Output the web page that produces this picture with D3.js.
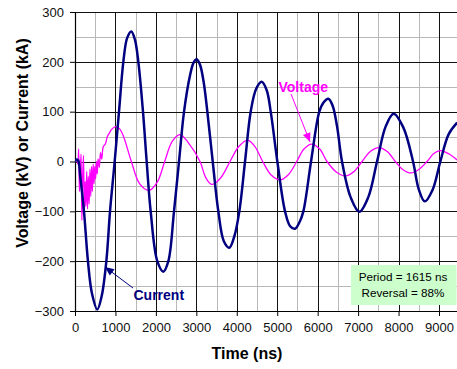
<!DOCTYPE html>
<html><head><meta charset="utf-8">
<script src="https://cdn.jsdelivr.net/npm/d3@7"></script>
<style>body{margin:0;background:#fff}svg{display:block}</style>
</head><body>
<svg id="chart" width="457" height="369"></svg>
<script>
// ---- data (time in ns, value in kA / kV) ----
const currentPoints = [[0,0],[40,4],[80,2],[130,-30],[222,-100],[320,-200],[420,-265],[551,-297],[660,-270],[775,-200],[866,-100],[981,0],[1088,100],[1195,200],[1290,248],[1392,261],[1480,245],[1566,200],[1681,100],[1772,0],[1871,-100],[2035,-200],[2184,-221],[2308,-200],[2448,-100],[2572,0],[2696,100],[2850,175],[2930,198],[3009,205],[3091,194],[3180,160],[3272,100],[3405,0],[3544,-100],[3680,-160],[3816,-173],[3940,-150],[4063,-100],[4204,0],[4344,100],[4480,146],[4616,160],[4740,143],[4839,100],[5003,0],[5193,-100],[5320,-130],[5440,-135],[5550,-122],[5646,-100],[5836,0],[6041,100],[6150,119],[6264,126],[6370,112],[6480,70],[6602,0],[6816,-72],[7031,-101],[7250,-72],[7468,0],[7680,70],[7880,96],[8120,68],[8358,0],[8500,-56],[8647,-80],[8840,-57],[9033,0],[9240,55],[9450,78]];
const voltagePoints = [[0,0],[40,2],[70,-5],[90,25],[110,-60],[130,-20],[150,15],[170,-118],[190,-30],[210,12],[230,-105],[250,-40],[270,-90],[290,-20],[310,-95],[330,-30],[350,-85],[370,-15],[390,-70],[410,-10],[430,-60],[450,-5],[470,-45],[490,-10],[510,-35],[530,0],[550,-25],[570,5],[600,-12],[630,18],[660,5],[700,30],[750,35],[800,50],[850,57],[900,64],[1000,70],[1100,66],[1200,50],[1393,0],[1600,-45],[1830,-58],[2030,-42],[2218,0],[2400,40],[2596,54],[2800,38],[3091,0],[3230,-32],[3380,-46],[3600,-33],[3833,0],[4050,30],[4270,43],[4450,30],[4641,0],[4850,-27],[5070,-37],[5280,-26],[5482,0],[5660,25],[5852,35],[6050,25],[6231,0],[6460,-21],[6685,-29],[6900,-20],[7097,0],[7300,20],[7510,28],[7720,20],[7920,0],[8100,-16],[8309,-23],[8500,-16],[8704,0],[8870,16],[9033,22],[9250,15],[9450,3]];
const xTickValues = [0,1000,2000,3000,4000,5000,6000,7000,8000,9000];
const xMinorValues = [500,1500,2500,3500,4500,5500,6500,7500,8500];
const yTickValues = [-300,-200,-100,0,100,200,300];
const yMinorValues = [-250,-150,-50,50,150,250];
const xTitle = "Time (ns)";
const yTitle = "Voltage (kV) or Current (kA)";
const infoLines = ["Period = 1615 ns","Reversal = 88%"];

// ---- layout ----
const L = 75, R = 457.2, T = 12, B = 311;
const svg = d3.select("#chart");
const x = d3.scaleLinear().domain([0, 9450]).range([L, R]);
const y = d3.scaleLinear().domain([-300, 300]).range([B, T]);
const font = "'Liberation Sans', Arial, sans-serif";
const px = v => Math.round(v) + 0.5;

svg.append("defs").append("clipPath").attr("id","clip")
  .append("rect").attr("x",L).attr("y",T-2).attr("width",R-L).attr("height",B-T+4);

// grid
const g = svg.append("g");
g.selectAll(".vmin").data(xMinorValues).join("line")
  .attr("x1",d=>px(x(d))).attr("x2",d=>px(x(d))).attr("y1",T).attr("y2",B)
  .attr("stroke","#b8b8b8").attr("stroke-width",1);
g.selectAll(".hmin").data(yMinorValues).join("line")
  .attr("x1",L).attr("x2",R).attr("y1",d=>px(y(d))).attr("y2",d=>px(y(d)))
  .attr("stroke","#b8b8b8").attr("stroke-width",1);
g.selectAll(".vmaj").data(xTickValues.filter(d=>d>0)).join("line")
  .attr("x1",d=>px(x(d))).attr("x2",d=>px(x(d))).attr("y1",T).attr("y2",B)
  .attr("stroke","#111").attr("stroke-width",1);
g.selectAll(".hmaj").data(yTickValues.filter(d=>d>-300)).join("line")
  .attr("x1",L).attr("x2",R).attr("y1",d=>px(y(d))).attr("y2",d=>px(y(d)))
  .attr("stroke","#111").attr("stroke-width",1);

// axes
const xAxis = d3.axisBottom(x).tickValues(xTickValues).tickSize(5).tickPadding(7).tickFormat(d3.format("d"));
const yAxis = d3.axisLeft(y).tickValues(yTickValues).tickSize(5).tickPadding(6).tickFormat(d3.format("d"));
const gx = svg.append("g").attr("transform",`translate(0,${Math.round(B)})`).call(xAxis);
const gy = svg.append("g").attr("transform",`translate(${Math.round(L)},0)`).call(yAxis);
[gx,gy].forEach(a=>{
  a.selectAll("path").attr("stroke","#000").attr("stroke-width",1.2);
  a.selectAll("line").attr("stroke","#000");
  a.selectAll("text").attr("font-family",font).attr("font-size","13px").attr("fill","#111");
});
gx.select("path").attr("d",`M${L},0.5H${R}`);
gy.select("path").attr("d",`M0.5,${T}V${B}`);

// lines
const line = d3.line().x(d=>x(d[0])).y(d=>y(d[1])).curve(d3.curveCatmullRom.alpha(0.5));
const plot = svg.append("g").attr("clip-path","url(#clip)");
plot.append("path").datum(voltagePoints).attr("d",line)
  .attr("fill","none").attr("stroke","#ff00ff").attr("stroke-width",1.3).attr("stroke-linejoin","round");
plot.append("path").datum(currentPoints).attr("d",line)
  .attr("fill","none").attr("stroke","#000080").attr("stroke-width",2.5).attr("stroke-linejoin","round");

// axis titles
svg.append("text").attr("x",247).attr("y",359).attr("text-anchor","middle")
  .attr("font-family",font).attr("font-weight","bold").attr("font-size","16px").attr("fill","#000").text(xTitle);
svg.append("text").attr("transform","translate(27.5,143) rotate(-90)").attr("text-anchor","middle")
  .attr("font-family",font).attr("font-weight","bold").attr("font-size","16px").attr("fill","#000").text(yTitle);

// annotations with arrows
function arrow(x1,y1,x2,y2,color){
  svg.append("line").attr("x1",x1).attr("y1",y1).attr("x2",x2).attr("y2",y2)
    .attr("stroke",color).attr("stroke-width",1);
  const a = Math.atan2(y2-y1,x2-x1), len=9, w=4;
  const bx = x2-len*Math.cos(a), by = y2-len*Math.sin(a);
  const p = [[x2,y2],[bx+w*Math.sin(a),by-w*Math.cos(a)],[bx-w*Math.sin(a),by+w*Math.cos(a)]];
  svg.append("path").attr("d","M"+p.map(q=>q.join(",")).join("L")+"Z").attr("fill",color);
}
svg.append("text").attr("x",278.5).attr("y",91.5).attr("font-family",font).attr("font-weight","bold")
  .attr("font-size","14px").attr("fill","#ff00ff").text("Voltage");
arrow(291,94,310,142,"#ff00ff");
svg.append("text").attr("x",133.5).attr("y",299.5).attr("font-family",font).attr("font-weight","bold")
  .attr("font-size","14px").attr("fill","#000080").text("Current");
arrow(133,288,105,267,"#000080");

// info box
svg.append("rect").attr("x",351).attr("y",265).attr("width",105.5).attr("height",40).attr("fill","#ccffcc");
svg.selectAll(".info").data(infoLines).join("text")
  .attr("x",403).attr("y",(d,i)=>281+i*15.6).attr("text-anchor","middle")
  .attr("font-family",font).attr("font-size","11.7px").attr("fill","#000").text(d=>d);
</script>
</body></html>
